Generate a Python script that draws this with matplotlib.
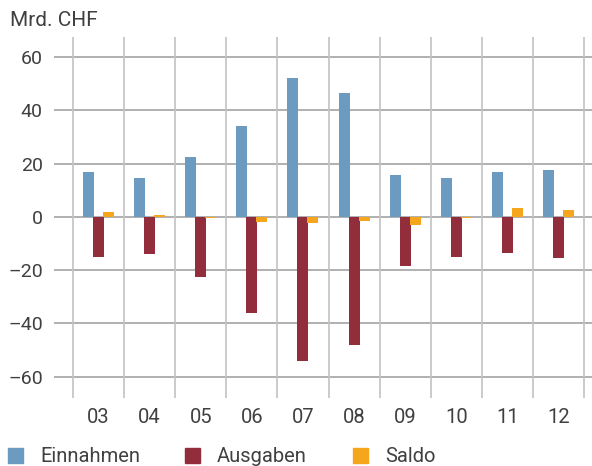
import numpy as np
import matplotlib
matplotlib.use("Agg")
import matplotlib.pyplot as plt
from matplotlib.patches import Rectangle

# Daten (Mrd. CHF), Jahre 2003-2012
jahre = ['03', '04', '05', '06', '07', '08', '09', '10', '11', '12']
einnahmen = [16.8, 14.5, 22.4, 34.2, 52.0, 46.6, 15.7, 14.6, 16.8, 17.5]
ausgaben = [-14.9, -13.8, -22.6, -36.0, -54.2, -48.0, -18.3, -14.9, -13.4, -15.3]
saldo = [1.9, 0.7, -0.6, -1.9, -2.2, -1.5, -3.0, -0.3, 3.4, 2.6]

farben = ['#6b9bc1', '#922d3c', '#f6a61d']
namen = ['Einnahmen', 'Ausgaben', 'Saldo']

plt.rcParams['font.family'] = ['Roboto', 'DejaVu Sans']
txtcol = '#404040'
fw = 'normal'

fig = plt.figure(figsize=(5.92, 4.66), dpi=100)
W, H = 592, 466
ax = fig.add_axes([54 / W, (H - 398) / H, (592 - 54) / W, (398 - 37) / H])

x = np.arange(len(jahre))
bw = 11 / 51
off = 10 / 51
for i, (werte, col) in enumerate(zip([einnahmen, ausgaben, saldo], farben)):
    ax.bar(x + (i - 1) * off, werte, width=bw, color=col, zorder=3, linewidth=0)

ax.set_xlim(-0.5 - 19 / 51, 9.5 + 8 / 51)
ax.set_ylim(-68, 67.5)

yt = [-60, -40, -20, 0, 20, 40, 60]
for y in yt:
    ax.axhline(y, color='#a3a3a3', lw=1.2, zorder=1)
ax.vlines(np.arange(-0.5, 10), -68, 67.5, color='#c2c2c2', lw=1.2, zorder=1)

for s in ax.spines.values():
    s.set_visible(False)
ax.set_yticks(yt)
ax.set_yticklabels([str(v).replace('-', '\u2013') for v in yt])
ax.set_xticks(x)
ax.set_xticklabels(jahre)
ax.tick_params(axis='y', length=0, pad=8, labelsize=14, labelcolor=txtcol)
ax.tick_params(axis='x', length=0, pad=7, labelsize=14.5, labelcolor=txtcol)
for lab in ax.get_xticklabels() + ax.get_yticklabels():
    lab.set_fontweight(fw)

fig.text(10 / W, 1 - 20 / H, 'Mrd. CHF', fontsize=15, color=txtcol,
         va='center', ha='left', fontweight=fw)

# Legende
leg_x = [8, 185, 353]
for lx, col, name in zip(leg_x, farben, namen):
    fig.patches.append(Rectangle((lx / W, 1 - 463 / H), 15 / W, 15 / H,
                                 transform=fig.transFigure, color=col, figure=fig))
    fig.text((lx + 32) / W, 1 - 456 / H, name, fontsize=14.5, color=txtcol,
             va='center', ha='left', fontweight=fw)

fig.savefig('out.png', dpi=100)
